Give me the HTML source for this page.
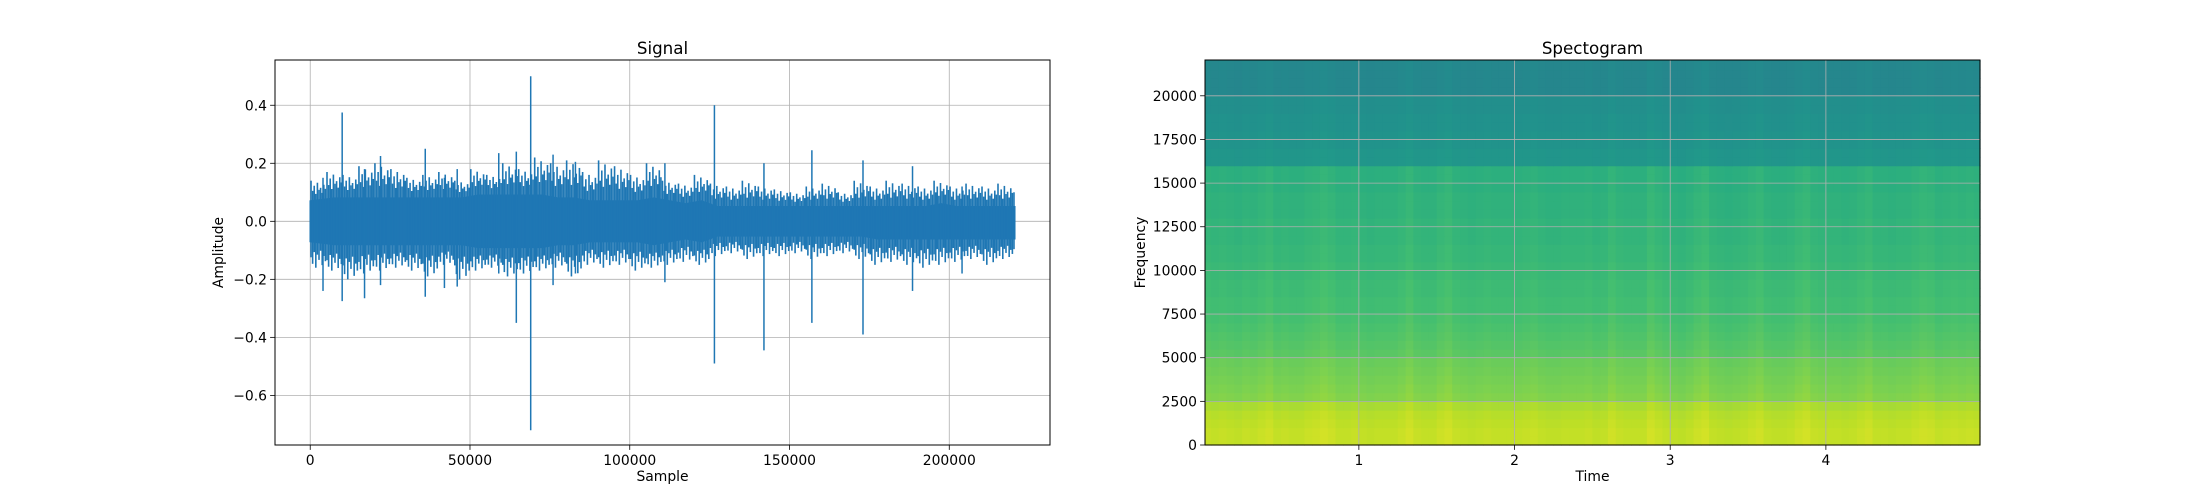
<!DOCTYPE html>
<html><head><meta charset="utf-8"><style>
html,body{margin:0;padding:0;background:#fff;}
svg{display:block;font-family:"DejaVu Sans","Liberation Sans",sans-serif;}
</style></head><body>
<svg id="fig" width="2200" height="500" viewBox="0 0 2200 500" xmlns="http://www.w3.org/2000/svg">
<rect width="2200" height="500" fill="#fff"/>
<g id="sig"></g>
<g id="spec"></g>
</svg>
<script>
// ---------- Signal data ----------
const sigBinSize = 5000;
const sigLength = 220500;
const peakHi = [0.14,0.17,0.16,0.19,0.2,0.18,0.15,0.16,0.17,0.14,0.18,0.16,0.2,0.18,0.22,0.2,0.21,0.17,0.21,0.19,0.16,0.2,0.14,0.13,0.16,0.13,0.12,0.14,0.12,0.11,0.1,0.12,0.13,0.1,0.14,0.12,0.14,0.13,0.12,0.14,0.12,0.13,0.12,0.13,0.1];
const peakLo = [-0.16,-0.17,-0.2,-0.18,-0.17,-0.16,-0.17,-0.19,-0.15,-0.2,-0.17,-0.16,-0.19,-0.18,-0.17,-0.16,-0.19,-0.15,-0.16,-0.15,-0.17,-0.16,-0.15,-0.14,-0.15,-0.12,-0.11,-0.13,-0.12,-0.12,-0.11,-0.13,-0.12,-0.11,-0.13,-0.15,-0.14,-0.15,-0.16,-0.15,-0.14,-0.13,-0.15,-0.13,-0.12];
const coreHi = [0.07,0.08,0.08,0.08,0.08,0.08,0.08,0.08,0.08,0.08,0.09,0.09,0.09,0.09,0.09,0.08,0.08,0.07,0.07,0.07,0.07,0.08,0.07,0.06,0.07,0.05,0.05,0.05,0.05,0.05,0.05,0.05,0.05,0.05,0.05,0.05,0.05,0.05,0.05,0.06,0.05,0.05,0.05,0.05,0.05];
const coreLo = [-0.07,-0.08,-0.08,-0.08,-0.08,-0.08,-0.08,-0.08,-0.08,-0.08,-0.09,-0.09,-0.09,-0.09,-0.09,-0.08,-0.08,-0.07,-0.07,-0.07,-0.07,-0.08,-0.07,-0.06,-0.07,-0.05,-0.05,-0.05,-0.05,-0.05,-0.05,-0.05,-0.05,-0.05,-0.05,-0.06,-0.06,-0.06,-0.06,-0.06,-0.06,-0.06,-0.06,-0.06,-0.06];
const spikeX  = [10000,4000,17000,22000,36000,42000,46000,59000,64500,69000,76000,83000,111000,126500,142000,157000,173000,188500,204000];
const spikeHi = [0.375,0.15,0.18,0.225,0.25,0.15,0.18,0.235,0.24,0.5,0.23,0.205,0.2,0.4,0.2,0.245,0.21,0.19,0.12];
const spikeLo = [-0.275,-0.24,-0.265,-0.22,-0.26,-0.23,-0.225,-0.18,-0.35,-0.72,-0.22,-0.18,-0.21,-0.49,-0.445,-0.35,-0.39,-0.24,-0.18];
const sigXTicks = [0,50000,100000,150000,200000];
const sigYTicks = [-0.6,-0.4,-0.2,0.0,0.2,0.4];

// ---------- Spectrogram data ----------
const freqBinHz = 500;
const freqLevel = [0.91,0.91,0.9,0.89,0.87,0.81,0.8,0.79,0.78,0.77,0.74,0.73,0.72,0.71,0.7,0.69,0.69,0.68,0.68,0.67,0.67,0.66,0.66,0.65,0.65,0.65,0.64,0.64,0.64,0.63,0.63,0.63,0.52,0.52,0.51,0.51,0.5,0.5,0.49,0.49,0.46,0.46,0.46,0.46,0.46];
const timeBinSec = 0.05;
const timeMod = [0.01,0.0,0.01,0.0,-0.01,0.01,0.0,0.02,0.04,0.0,0.01,0.0,0.0,0.02,0.03,0.05,0.03,0.0,0.0,0.01,0.0,-0.01,0.0,0.0,0.0,0.02,0.05,0.01,0.0,0.0,0.03,0.05,0.01,0.0,-0.01,0.0,0.01,0.0,0.0,0.0,0.0,0.01,0.02,0.0,-0.01,-0.01,0.0,0.0,0.0,0.01,-0.01,0.0,0.04,0.01,0.0,0.0,0.0,0.05,0.02,0.0,-0.01,-0.02,0.0,0.03,0.05,0.0,-0.01,-0.02,-0.01,0.0,0.02,0.04,0.0,-0.01,-0.01,0.0,0.03,0.05,0.01,0.0,0.0,0.0,-0.01,0.0,0.02,0.04,0.0,0.0,-0.01,0.0,0.0,0.02,0.04,0.03,0.0,0.01,0.02,0.01,0.02,0.01];
const specXTicks = [1,2,3,4];
const specYTicks = [0,2500,5000,7500,10000,12500,15000,17500,20000];

const NS='http://www.w3.org/2000/svg';
function mk(parent,tag,attrs,text){const e=document.createElementNS(NS,tag);for(const k in attrs)e.setAttribute(k,attrs[k]);if(text!==undefined)e.textContent=text;parent.appendChild(e);return e;}
const fmt=v=>{let s=(Math.abs(v)<1e-9?'0.0':v.toFixed(1));return s.replace('-','\u2212');};

// ---------- Signal chart ----------
(function(){
  const g=document.getElementById('sig');
  const L=275,R=1050,T=60,B=445, xmin=-11025,xmax=231525,ymin=-0.771,ymax=0.556;
  const X=v=>L+(v-xmin)/(xmax-xmin)*(R-L);
  const Y=v=>B-(v-ymin)/(ymax-ymin)*(B-T);
  sigXTicks.forEach(t=>{
    const l=mk(g,'line',{x1:X(t),x2:X(t),y1:T,y2:B,stroke:'#b0b0b0','stroke-width':0.8});
    
    
  });
  sigYTicks.forEach(t=>{
    const l=mk(g,'line',{x1:L,x2:R,y1:Y(t),y2:Y(t),stroke:'#b0b0b0','stroke-width':0.8});
    
    
  });
  let pts=[];
  const cx=i=>Math.min(sigLength,i*sigBinSize+(i===0?0:sigBinSize/2));
  coreHi.forEach((v,i)=>pts.push(X(cx(i))+','+Y(v)));
  pts.push(X(sigLength)+','+Y(coreHi[coreHi.length-1]));
  pts.push(X(sigLength)+','+Y(coreLo[coreLo.length-1]));
  for(let i=coreLo.length-1;i>=0;i--)pts.push(X(cx(i))+','+Y(coreLo[i]));
  const poly=mk(g,'polygon',{points:pts.join(' '),fill:'#1f77b4',stroke:'#1f77b4','stroke-width':1.5});
  
  
  const frac=[0.05,0.15,0.25,0.35,0.45,0.55,0.65,0.75,0.85,0.95];
  const hiW=[1,0.5,0.75,0.35,0.9,0.55,0.65,0.4,0.8,0.6];
  const loW=[0.6,0.85,0.4,1,0.5,0.7,0.35,0.9,0.55,0.75];
  peakHi.forEach((v,i)=>{
    frac.forEach((f,j)=>{
      const s=i*sigBinSize+f*sigBinSize;
      if(s>sigLength)return;
      const hi=coreHi[i]+(v-coreHi[i])*hiW[j], lo=coreLo[i]+(peakLo[i]-coreLo[i])*loW[j];
      const l=mk(g,'line',{x1:X(s),x2:X(s),y1:Y(hi),y2:Y(lo),stroke:'#1f77b4','stroke-width':1.6});
      
      
    });
  });
  spikeX.forEach((s,i)=>{
    const l=mk(g,'line',{x1:X(s),x2:X(s),y1:Y(spikeHi[i]),y2:Y(spikeLo[i]),stroke:'#1f77b4','stroke-width':1.5});
    
    
  });
  const fr=mk(g,'rect',{x:L,y:T,width:R-L,height:B-T,fill:'none',stroke:'#000','stroke-width':1});
  
  
  sigXTicks.forEach(t=>{
    mk(g,'line',{x1:X(t),x2:X(t),y1:B,y2:B+4.9,stroke:'#000','stroke-width':0.8});
    const tx=mk(g,'text',{x:X(t),y:B+20,'text-anchor':'middle','font-size':13.9},String(t));
    
    
  });
  sigYTicks.forEach(t=>{
    mk(g,'line',{x1:L-4.9,x2:L,y1:Y(t),y2:Y(t),stroke:'#000','stroke-width':0.8});
    const tx=mk(g,'text',{x:L-8,y:Y(t)+5,'text-anchor':'end','font-size':13.9},fmt(t));
    
    
  });
  const ti=mk(g,'text',{x:(L+R)/2,y:T-6,'text-anchor':'middle','font-size':16.7},'Signal');
  
  
  const xl=mk(g,'text',{x:(L+R)/2,y:B+36,'text-anchor':'middle','font-size':13.9},'Sample');
  
  
  const yl=mk(g,'text',{x:0,y:0,'text-anchor':'middle','font-size':13.9,transform:`translate(223,${(T+B)/2}) rotate(-90)`},'Amplitude');
  
  
})();

// ---------- Spectrogram ----------
const VIR=[[0,'#440154'],[0.1,'#482475'],[0.2,'#414487'],[0.3,'#355f8d'],[0.4,'#2a788e'],[0.5,'#21918c'],[0.6,'#22a884'],[0.7,'#44bf70'],[0.8,'#7ad151'],[0.9,'#bddf26'],[1,'#fde725']];
function vir(v){v=Math.max(0,Math.min(1,v));for(let i=1;i<VIR.length;i++){if(v<=VIR[i][0]){const a=VIR[i-1],b=VIR[i];const f=(v-a[0])/(b[0]-a[0]);const h=s=>[1,3,5].map(k=>parseInt(s.substr(k,2),16));const ca=h(a[1]),cb=h(b[1]);return 'rgb('+ca.map((c,k)=>Math.round(c+(cb[k]-c)*f)).join(',')+')';}}return VIR[VIR.length-1][1];}
(function(){
  const g=document.getElementById('spec');
  const L=1205,R=1980,T=60,B=445, xmin=0.0116,xmax=4.99,ymin=0,ymax=22050;
  const X=v=>L+(v-xmin)/(xmax-xmin)*(R-L);
  const Y=v=>B-(v-ymin)/(ymax-ymin)*(B-T);
  const cells=mk(g,'g',{});
  
  
  freqLevel.forEach((fl,fi)=>{
    const f0=fi*freqBinHz, f1=Math.min(ymax,f0+freqBinHz);
    timeMod.forEach((tm,ti)=>{
      const t0=Math.max(xmin,ti*timeBinSec), t1=Math.min(xmax,(ti+1)*timeBinSec);
      if(t1<=t0)return;
      const boost=(fi>=32?0.3:0.5)*tm;
      const r=mk(cells,'rect',{x:X(t0),y:Y(f1),width:X(t1)-X(t0)+0.6,height:Y(f0)-Y(f1)+0.6,fill:vir(fl+boost)});
      
      
    });
  });
  specXTicks.forEach(t=>{
    const l=mk(g,'line',{x1:X(t),x2:X(t),y1:T,y2:B,stroke:'#b0b0b0','stroke-width':0.8});
    
    
  });
  specYTicks.forEach(t=>{
    const l=mk(g,'line',{x1:L,x2:R,y1:Y(t),y2:Y(t),stroke:'#b0b0b0','stroke-width':0.8});
    
    
  });
  const fr=mk(g,'rect',{x:L,y:T,width:R-L,height:B-T,fill:'none',stroke:'#000','stroke-width':1});
  
  
  specXTicks.forEach(t=>{
    mk(g,'line',{x1:X(t),x2:X(t),y1:B,y2:B+4.9,stroke:'#000','stroke-width':0.8});
    const tx=mk(g,'text',{x:X(t),y:B+20,'text-anchor':'middle','font-size':13.9},String(t));
    
    
  });
  specYTicks.forEach(t=>{
    mk(g,'line',{x1:L-4.9,x2:L,y1:Y(t),y2:Y(t),stroke:'#000','stroke-width':0.8});
    const tx=mk(g,'text',{x:L-8,y:Y(t)+5,'text-anchor':'end','font-size':13.9},String(t));
    
    
  });
  const ti=mk(g,'text',{x:(L+R)/2,y:T-6,'text-anchor':'middle','font-size':16.7},'Spectogram');
  
  
  const xl=mk(g,'text',{x:(L+R)/2,y:B+36,'text-anchor':'middle','font-size':13.9},'Time');
  
  
  const yl=mk(g,'text',{x:0,y:0,'text-anchor':'middle','font-size':13.9,transform:`translate(1145,${(T+B)/2}) rotate(-90)`},'Frequency');
  
  
})();
</script>
</body></html>
